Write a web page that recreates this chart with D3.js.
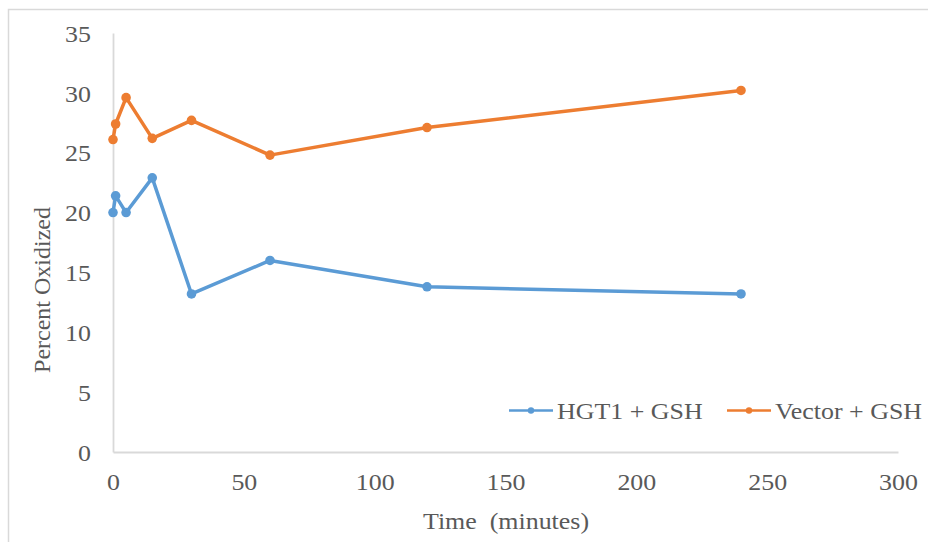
<!DOCTYPE html>
<html>
<head>
<meta charset="utf-8">
<script src="https://cdn.jsdelivr.net/npm/d3@7"></script>
<style>
  body { margin: 0; background: #fff; }
  svg { display: block; }
</style>
</head>
<body>
<svg width="928" height="542"></svg>
<script>
// Data
const times = [0, 1, 5, 15, 30, 60, 120, 240];
const hgt1 = [20.0, 21.4, 20.0, 22.9, 13.2, 16.0, 13.8, 13.2];
const vector = [26.1, 27.4, 29.6, 26.2, 27.7, 24.8, 27.1, 30.2];
const seriesNames = ["HGT1 + GSH", "Vector + GSH"];
const xTicks = [0, 50, 100, 150, 200, 250, 300];
const yTicks = [0, 5, 10, 15, 20, 25, 30, 35];

const colors = ["#5b9bd5", "#ed7d31"];
const serif = "Liberation Serif, DejaVu Serif, serif";
const stretch = 1.08; // text looks a bit wide in the original

const svg = d3.select("svg")
  .attr("font-family", serif)
  .attr("fill", "#595959");

// Outer chart border (only left and top visible)
svg.append("rect")
  .attr("x", 8.5).attr("y", 9.5)
  .attr("width", 1000).attr("height", 1000)
  .attr("fill", "none")
  .attr("stroke", "#d9d9d9")
  .attr("stroke-width", 1.5);

const x = d3.scaleLinear().domain([0, 300]).range([113, 898]);
const y = d3.scaleLinear().domain([0, 35]).range([452, 33]);

// Axes
const gx = svg.append("g")
  .attr("transform", `translate(0,${y(0)})`)
  .call(d3.axisBottom(x).tickValues(xTicks).tickSize(0).tickSizeOuter(0));

const gy = svg.append("g")
  .attr("transform", `translate(${x(0)},0)`)
  .call(d3.axisLeft(y).tickValues(yTicks).tickSize(0).tickSizeOuter(0));

[gx, gy].forEach(g => {
  g.attr("font-family", serif).attr("font-size", 24);
  g.select(".domain").attr("stroke", "#d9d9d9").attr("stroke-width", 1.8);
  g.selectAll("text").attr("fill", "#595959");
});

gx.selectAll(".tick text")
  .attr("y", 0).attr("dy", "0.35em")
  .attr("transform", `translate(0,30) scale(${stretch},1)`);

gy.selectAll(".tick text")
  .attr("x", 0).attr("dy", "0.34em")
  .attr("transform", `translate(-22,0) scale(${stretch},1)`);

// Axis titles
svg.append("text")
  .attr("transform", `translate(506,521) scale(${stretch},1)`)
  .attr("text-anchor", "middle")
  .attr("dy", "0.35em")
  .attr("font-size", 24)
  .style("white-space", "pre")
  .text("Time  (minutes)");

svg.append("text")
  .attr("transform", "translate(42,290) rotate(-90)")
  .attr("text-anchor", "middle")
  .attr("dy", "0.35em")
  .attr("font-size", 24)
  .text("Percent Oxidized");

// Series
const allSeries = [hgt1, vector];
const line = d3.line()
  .x((d, i) => x(times[i]))
  .y(d => y(d));

allSeries.forEach((vals, s) => {
  svg.append("path")
    .datum(vals)
    .attr("fill", "none")
    .attr("stroke", colors[s])
    .attr("stroke-width", 3.5)
    .attr("stroke-linejoin", "round")
    .attr("d", line);

  svg.append("g")
    .selectAll("circle")
    .data(vals)
    .join("circle")
    .attr("cx", (d, i) => x(times[i]))
    .attr("cy", d => y(d))
    .attr("r", 4.8)
    .attr("fill", colors[s]);
});

// Legend
const legendX = [509, 727];
const legendY = 410.5;
seriesNames.forEach((name, s) => {
  const g = svg.append("g");
  g.append("line")
    .attr("x1", legendX[s]).attr("x2", legendX[s] + 44)
    .attr("y1", legendY).attr("y2", legendY)
    .attr("stroke", colors[s])
    .attr("stroke-width", 2.5);
  g.append("circle")
    .attr("cx", legendX[s] + 22).attr("cy", legendY)
    .attr("r", 3.2)
    .attr("fill", colors[s]);
  g.append("text")
    .attr("transform", `translate(${legendX[s] + 48},${legendY}) scale(${stretch},1)`)
    .attr("dy", "0.35em")
    .attr("font-size", 24)
    .text(name);
});
</script>
</body>
</html>
